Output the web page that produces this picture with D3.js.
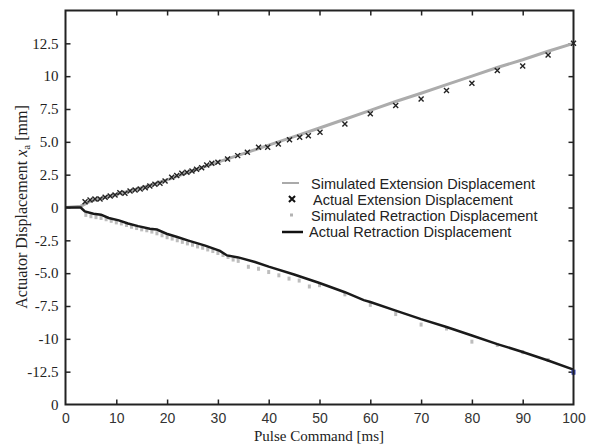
<!DOCTYPE html>
<html><head><meta charset="utf-8">
<script src="https://cdn.jsdelivr.net/npm/d3@7"></script>
<style>body{margin:0;background:#fff}svg{display:block}</style>
</head><body><svg id="c" width="589" height="447"></svg>
<script>
const xTicks = [0,10,20,30,40,50,60,70,80,90,100];
const yTicks = [12.5,10,7.5,5,2.5,0,-2.5,-5,-7.5,-10,-12.5,-15];
const yTickLabels = ["12.5","10","7.5","5.0","2.5","0","-2.5","-5.0","-7.5","-10","-12.5","0"];
const legendLabels = ["Simulated Extension Displacement","Actual Extension Displacement","Simulated Retraction Displacement","Actual Retraction Displacement"];

const simExtension = [[0,0],[3,0.1],[5,0.5],[10,1.0],[15,1.5],[20,2.1],[25,2.8],[30,3.45],[35,4.1],[40,4.75],[45,5.4],[50,6.05],[55,6.72],[60,7.4],[65,8.07],[70,8.7],[75,9.35],[80,10.0],[85,10.66],[90,11.25],[95,11.9],[100,12.5]];
const actExtension = [[3.85,0.44],[4.83,0.57],[5.8,0.65],[6.8,0.65],[7.8,0.78],[8.8,0.88],[9.75,0.95],[10.7,1.13],[11.7,1.08],[12.7,1.26],[13.7,1.33],[14.7,1.41],[15.7,1.51],[16.6,1.64],[17.6,1.77],[18.6,1.84],[19.6,2.02],[20.9,2.3],[21.9,2.43],[22.9,2.6],[23.9,2.68],[24.9,2.78],[25.8,2.91],[26.8,3.03],[27.8,3.24],[28.8,3.37],[30.0,3.45],[31.9,3.7],[33.9,3.95],[35.8,4.2],[38,4.59],[39.8,4.59],[41.9,4.84],[44.1,5.15],[46.1,5.35],[47.8,5.47],[50.1,5.73],[55,6.36],[60,7.13],[65,7.76],[70,8.27],[75,8.9],[80,9.46],[85,10.43],[90,10.78],[95,11.62],[100,12.5]];
const simRetraction = [[4,-0.45],[5,-0.55],[6,-0.62],[7,-0.68],[8,-0.78],[9,-0.9],[10,-1.02],[11,-1.1],[12,-1.22],[13,-1.35],[14,-1.45],[15,-1.55],[16,-1.62],[17,-1.72],[18,-1.85],[19,-2.0],[20,-2.15],[21,-2.25],[22,-2.38],[23,-2.5],[24,-2.62],[25,-2.72],[26,-2.85],[27,-2.95],[28,-3.08],[29,-3.2],[30,-3.35],[31,-3.5],[32,-3.65],[33,-3.85],[34,-3.95],[36,-4.4],[38,-4.55],[40,-4.8],[42,-5.05],[44,-5.3],[46,-5.45],[48,-5.9],[50,-5.8],[55,-6.5],[60,-7.3],[65,-8.0],[70,-8.8],[75,-9.1],[80,-10.1],[85,-10.35],[90,-10.9],[95,-11.5],[100,-12.5]];
const actRetraction = [[0,0],[3,0],[3.8,-0.3],[5.5,-0.48],[7,-0.55],[8.5,-0.8],[10.5,-0.98],[12.3,-1.22],[14.3,-1.42],[16.6,-1.62],[18,-1.68],[19.9,-2.0],[22,-2.25],[24.2,-2.52],[27.5,-2.9],[30.4,-3.3],[31.8,-3.65],[34,-3.8],[37.3,-4.15],[40,-4.5],[45,-5.1],[50,-5.75],[55,-6.45],[58.7,-7.05],[60,-7.2],[65,-7.85],[70,-8.5],[75,-9.1],[80,-9.75],[85,-10.4],[90,-11.0],[95,-11.65],[100,-12.35]];

const svg = d3.select("#c");
const L=65.5, R=573.5, T=10.5, B=404.5;
const x = d3.scaleLinear().domain([0,100]).range([L,R]);
const y = d3.scaleLinear().domain([-15,15]).range([B,T]);
const serif = "'Liberation Serif','Times New Roman',serif";
const sans = "'Liberation Sans',Arial,sans-serif";

const gB = svg.append("g").attr("transform",`translate(0,${B})`)
  .call(d3.axisBottom(x).tickValues(xTicks).tickSizeInner(-5).tickSizeOuter(0).tickPadding(9).tickFormat(d3.format("d")));
gB.selectAll("text").attr("font-family",sans).attr("font-size",14).attr("fill","#333");
const gT = svg.append("g").attr("transform",`translate(0,${T})`)
  .call(d3.axisTop(x).tickValues(xTicks.slice(1,-1)).tickSizeInner(-5).tickSizeOuter(0).tickFormat(""));
const gL = svg.append("g").attr("transform",`translate(${L},0)`)
  .call(d3.axisLeft(y).tickValues(yTicks).tickSizeInner(-5).tickSizeOuter(0).tickPadding(7).tickFormat((d,i)=>yTickLabels[i]));
gL.selectAll("text").attr("font-family",serif).attr("font-size",15).attr("fill","#222");
const gR = svg.append("g").attr("transform",`translate(${R},0)`)
  .call(d3.axisRight(y).tickValues(yTicks.slice(0,-1)).tickSizeInner(-5).tickSizeOuter(0).tickFormat(""));
[gB,gT,gL,gR].forEach(g=>{g.select(".domain").remove();g.selectAll("line").attr("stroke","#222").attr("stroke-width",1.5);});
gB.selectAll(".tick").filter(d=>d===0||d===100).select("line").remove();
gL.selectAll(".tick").filter(d=>d===-15).select("line").remove();

const line = d3.line().x(d=>x(d[0])).y(d=>y(d[1]));
svg.append("path").datum(simExtension).attr("d",line).attr("fill","none").attr("stroke","#acacac").attr("stroke-width",3);
svg.append("g").selectAll("rect").data(simRetraction).join("rect")
  .attr("x",d=>x(d[0])-1.5).attr("y",d=>y(d[1])-0.5).attr("width",3).attr("height",4).attr("fill","#bdbdbd");
svg.append("path").datum(actRetraction).attr("d",line).attr("fill","none").attr("stroke","#1a1a1a").attr("stroke-width",2.5);
const cross = d3.symbol().type(d3.symbolX).size(18);
svg.append("g").selectAll("path").data(actExtension).join("path")
  .attr("transform",d=>`translate(${x(d[0])},${y(d[1])})`).attr("d",cross)
  .attr("fill","none").attr("stroke","#222").attr("stroke-width",1.4);
svg.append("rect").attr("x",x(100)-2).attr("y",y(-12.5)-2).attr("width",4).attr("height",5).attr("fill","#3344bb");

svg.append("rect").attr("x",L).attr("y",T).attr("width",R-L).attr("height",B-T)
  .attr("fill","none").attr("stroke","#222").attr("stroke-width",2);

const lg = svg.append("g").attr("font-family",sans).attr("font-size",14.5).attr("fill","#222");
const rows=[184,200,216,232], tx=[311,313,311,309];
lg.append("line").attr("x1",282).attr("x2",299).attr("y1",rows[0]-1).attr("y2",rows[0]-1).attr("stroke","#aaaaaa").attr("stroke-width",2);
lg.append("path").attr("transform",`translate(292,${rows[1]-1})`).attr("d",d3.symbol().type(d3.symbolX).size(26)).attr("stroke","#111").attr("stroke-width",2).attr("fill","none");
lg.append("rect").attr("x",290).attr("y",rows[2]-2.5).attr("width",3).attr("height",3).attr("fill","#b3b3b3");
lg.append("line").attr("x1",282).attr("x2",303).attr("y1",rows[3]).attr("y2",rows[3]).attr("stroke","#111").attr("stroke-width",2.5);
legendLabels.forEach((t,i)=>lg.append("text").attr("x",tx[i]).attr("y",rows[i]+5).text(t));

svg.append("text").attr("x",319).attr("y",441).attr("text-anchor","middle")
  .attr("font-family",serif).attr("font-size",15).attr("fill","#222").text("Pulse Command [ms]");
const yt = svg.append("text").attr("transform","translate(27,207) rotate(-90)").attr("text-anchor","middle")
  .attr("font-family",serif).attr("font-size",16).attr("fill","#222");
yt.append("tspan").text("Actuator Displacement  ");
yt.append("tspan").attr("font-style","italic").text("x");
yt.append("tspan").attr("font-size",11).attr("dy",3).text("a");
yt.append("tspan").attr("dy",-3).text(" [mm]");
</script></body></html>
